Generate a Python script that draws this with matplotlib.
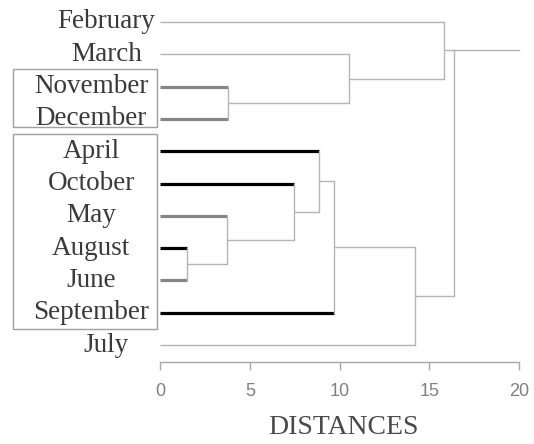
import matplotlib
matplotlib.use("Agg")
import matplotlib.pyplot as plt
from matplotlib.patches import Rectangle

# ---------------- data ----------------
leaves = ["February", "March", "November", "December", "April", "October",
          "May", "August", "June", "September", "July"]
# merges: (child_a, child_b, distance); ints refer to earlier merges
merges = [
    ("August", "June", 1.5),        # 0
    ("November", "December", 3.8),  # 1
    ("May", 0, 3.7),                # 2
    ("October", 2, 7.45),           # 3
    ("April", 3, 8.85),             # 4
    (4, "September", 9.7),          # 5
    ("March", 1, 10.5),             # 6
    (5, "July", 14.2),              # 7
    ("February", 6, 15.8),          # 8
    (8, 7, 16.4),                   # 9
]
root_end = 20
xticks = [0, 5, 10, 15, 20]
xlabel = "DISTANCES"
boxed_groups = [["November", "December"],
                ["April", "October", "May", "August", "June", "September"]]
black_leaves = ["April", "October", "August", "September"]
gray_leaves = ["November", "December", "May", "June"]

# ---------------- style ----------------
thin_c = "#b4b4b4"
thin_lw = 1.0
thick_lw = 2.3
label_c = "#3a3a3a"
serif = ["Liberation Serif", "DejaVu Serif"]

fig = plt.figure(figsize=(5.34, 4.44), dpi=100)
W, H = 534, 444
ax = fig.add_axes([160.3 / W, 1 - 362 / H, (519 - 160.3) / W, 362 / H])
ax.set_xlim(0, 20)
ax.set_ylim(10.526, -0.681)

ypos = {name: i for i, name in enumerate(leaves)}
node_y = {}
node_h = {}

def child_pos(c):
    if isinstance(c, str):
        return ypos[c], 0.0
    return node_y[c], node_h[c]

def leaf_style(name):
    if name in black_leaves:
        return dict(color="black", lw=thick_lw)
    if name in gray_leaves:
        return dict(color="#858585", lw=thick_lw)
    return dict(color=thin_c, lw=thin_lw)

for i, (a, b, h) in enumerate(merges):
    ya, ha = child_pos(a)
    yb, hb = child_pos(b)
    for c, yc, hc in ((a, ya, ha), (b, yb, hb)):
        st = leaf_style(c) if isinstance(c, str) else dict(color=thin_c, lw=thin_lw)
        ax.plot([hc, h], [yc, yc], solid_capstyle="butt", clip_on=False, **st)
    ax.plot([h, h], [ya, yb], color=thin_c, lw=thin_lw, clip_on=False)
    node_y[i] = (ya + yb) / 2
    node_h[i] = h

# root stub drawn from the upper branch of the last merge
last = len(merges) - 1
ya_root, _ = child_pos(merges[last][0])
ax.plot([node_h[last], root_end], [ya_root, ya_root], color=thin_c, lw=thin_lw,
        clip_on=False)

# leaf labels
boxed = [n for g in boxed_groups for n in g]
for name in leaves:
    x = -3.85 if name in boxed else -3.0
    ax.text(x, ypos[name], name, ha="center", va="center", fontsize=19.5,
            family=serif, color=label_c, clip_on=False)

# boxes around groups
pads = [(0.55, 0.25), (0.52, 0.5)]
for g, (pt, pb) in zip(boxed_groups, pads):
    y0 = ypos[g[0]] - pt
    y1 = ypos[g[-1]] + pb
    ax.add_patch(Rectangle((-8.2, y0), 8.02, y1 - y0, fill=False,
                           edgecolor="#a0a0a0", lw=1.0, clip_on=False))

# axis styling
for s in ["top", "right", "left"]:
    ax.spines[s].set_visible(False)
ax.spines["bottom"].set_color("#a8a8a8")
ax.spines["bottom"].set_linewidth(1.0)
ax.set_yticks([])
ax.set_xticks(xticks)
ax.set_xticklabels([str(t) for t in xticks], family=["Liberation Sans", "DejaVu Sans"])
ax.tick_params(axis="x", direction="out", length=6, width=1.0, color="#a8a8a8",
               labelsize=13, labelcolor="#808080", pad=9)
fig.text(343 / W, 1 - 427 / H, xlabel, ha="center", va="center", fontsize=20,
         family=serif, color="#4a4a4a")

fig.savefig("out.png", dpi=100)
